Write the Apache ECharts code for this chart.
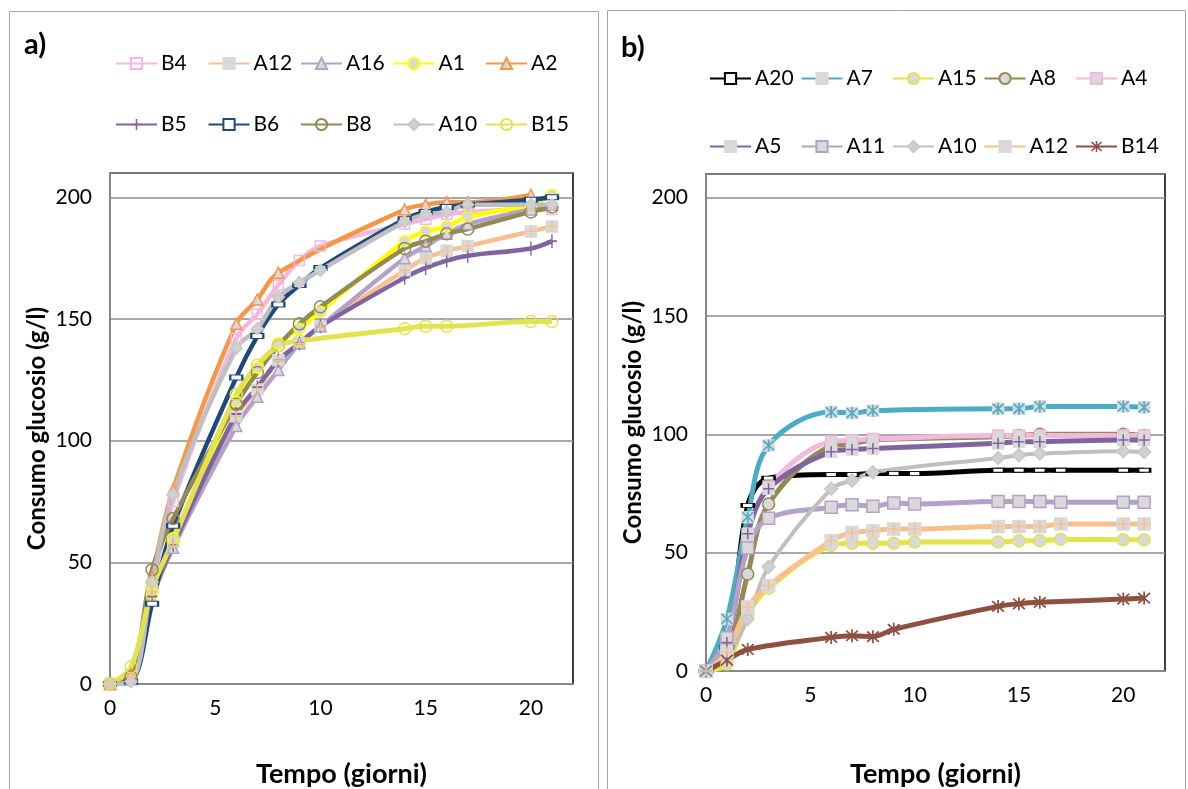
<!DOCTYPE html>
<html>
<head>
<meta charset="utf-8">
<script src="https://cdn.jsdelivr.net/npm/echarts@6/dist/echarts.min.js"></script>
<style>
  html, body { margin: 0; padding: 0; background: #fff; }
  #chart { width: 1188px; height: 789px; }
</style>
</head>
<body>
<div id="chart"></div>
<script>
const FONT = 'Lato, "Noto Sans", sans-serif';

// ---- Panel a) : sampling days and glucose consumption (g/l) ----
const daysA = [0, 1, 2, 3, 6, 7, 8, 9, 10, 14, 15, 16, 17, 20, 21];
const aB4  = [0, 3, 40, 75, 142, 152, 164, 174, 180, 189, 191, 193, 194, 195, 195];
const aA12 = [0, 3, 38, 58, 110, 121, 133, 140, 147, 170, 175, 178, 180, 186, 188];
const aA16 = [0, 2, 35, 56, 106, 118, 129, 140, 147, 175, 180, 185, 189, 195, 197];
const aA1  = [0, 3, 37, 60, 116, 130, 140, 146, 153, 182, 186, 188, 192, 197, 201];
const aA2  = [0, 4, 44, 80, 148, 158, 169, null, null, 195, 197, 198, 198, 201, null];
const aB5  = [0, 2, 36, 57, 111, 122, 133, 140, 147, 167, 171, 174, 176, 179, 182];
const aB6  = [0, 1, 33, 65, 126, 143, 156, 164, 171, 191, 194, 196, 197, 199, 200];
const aB8  = [0, 3, 47, 68, 115, 128, 139, 148, 155, 179, 182, 185, 187, 194, 196];
const aA10 = [0, 1, 42, 78, 138, 146, 159, 165, 170, 190, 193, 194, 197, 197, 197];
const aB15 = [0, 7, 39, 59, 119, 131, 139, 141, null, 146, 147, 147, null, 149, 149];

// ---- Panel b) ----
const daysB = [0, 1, 2, 3, 6, 7, 8, 9, 10, 14, 15, 16, 17, 20, 21];
const bA20 = [0, 10, 70, 81.5, 83, 83, 83.5, 83.5, 83.4, 84.8, 84.8, 84.8, 84.8, 84.8, 84.8];
const bA7  = [0, 22, 65, 95.3, 109.4, 109, 110, null, null, 110.8, 110.8, 111.8, null, 111.8, 111.4];
const bA15 = [0, 3, 24, 35, 53, 54, 54, 54, 54.5, 54.5, 55, 55, 55.7, 55.5, 55.5];
const bA8  = [0, 7, 41, 70.6, 95, 96, 97.6, null, null, 99, 99.5, 100, null, 100, 99.5];
const bA4  = [0, 12, 57, 78, 97, 97.5, 98, null, null, 99.5, 99.5, 99.5, null, 99.5, 99.5];
const bA5  = [0, 12, 58, 77, 92.6, 93.6, 94, null, null, 96.2, 96.9, 96.9, null, 97.6, 97.6];
const bA11 = [0, 14, 52, 64.5, 69.2, 70.2, 69.6, 71, 70.6, 71.6, 71.6, 71.6, 71.3, 71.3, 71.3];
const bA10 = [0, 6, 22, 44, 77, 80.5, 84, null, null, 90, 91.2, 91.9, null, 92.9, 92.6];
const bA12 = [0, 8, 27, 36, 55, 58.5, 59.2, 60, 60, 61.1, 61.1, 61.1, 62.1, 62.1, 62.1];
const bB14 = [0, 4.6, 9.1, null, 14.2, 14.9, 14.5, 17.6, null, 27.3, 28.4, 29, null, 30.4, 30.8];

// legend rows
const legendA1 = ['B4', 'A12', 'A16', 'A1', 'A2'];
const legendA2 = ['B5', 'B6', 'B8', 'A10', 'B15'];
const legendB1 = ['A20', 'A7', 'A15', 'A8', 'A4'];
const legendB2 = ['A5', 'A11', 'A10', 'A12', 'B14'];

// axis ticks
const yTicks = [0, 50, 100, 150, 200];
const xTicks = [0, 5, 10, 15, 20];

// marker shapes
const PLUS = 'path://M4.3,0H5.7V4.3H10V5.7H5.7V10H4.3V5.7H0V4.3H4.3Z';
const STAR = 'path://M4.4,0H5.6V10H4.4Z M0.5,1.4L1.4,0.5L9.5,8.6L8.6,9.5Z M8.6,0.5L9.5,1.4L1.4,9.5L0.5,8.6Z';
const GREY = '#d9d9d9';

function pairs(days, vals) {
  return days.map((d, i) => [d, vals[i]]).filter(p => p[1] != null);
}

function line(grid, name, days, vals, color, marker, lw) {
  return {
    type: 'line', name: name,
    xAxisIndex: grid, yAxisIndex: grid,
    data: pairs(days, vals),
    smooth: 0.35,
    symbol: marker.symbol,
    symbolSize: marker.size,
    showSymbol: true,
    lineStyle: { color: color, width: lw },
    itemStyle: {
      color: marker.fill,
      borderColor: marker.border == null ? color : marker.border,
      borderWidth: marker.bw == null ? 1.5 : marker.bw
    },
    emphasis: { disabled: true },
    animation: false
  };
}

// second glyph drawn on top of a grey marker (cross or star)
function overlay(grid, name, days, vals, color, symbol, size) {
  return {
    type: 'line', name: name,
    xAxisIndex: grid, yAxisIndex: grid,
    data: pairs(days, vals),
    symbol: symbol, symbolSize: size, showSymbol: true,
    lineStyle: { width: 0, opacity: 0 },
    itemStyle: { color: color, borderWidth: 0 },
    emphasis: { disabled: true },
    animation: false, z: 3
  };
}

const C = {
  pink: '#f2b8de', peach: '#f9c08e', lav: '#b3a2c7', yellow: '#ffff00',
  orange: '#f79646', purple: '#8064a2', navy: '#1f497d', olive: '#948a54',
  grey: '#bfbfbf', lime: '#e3e34f', black: '#000000', cyan: '#4bacc6', brown: '#8e5141'
};
const NONE = 'rgba(255,255,255,0)';

const seriesA = [
  line(0, 'B4', daysA, aB4, C.pink, { symbol: 'rect', size: 10, fill: NONE }, 4.5),
  line(0, 'A12', daysA, aA12, C.peach, { symbol: 'rect', size: 11, fill: GREY, border: GREY }, 4.5),
  line(0, 'A16', daysA, aA16, C.lav, { symbol: 'triangle', size: 11, fill: GREY }, 4.5),
  line(0, 'A1', daysA, aA1, C.yellow, { symbol: 'circle', size: 11, fill: GREY }, 4.5),
  line(0, 'A2', daysA, aA2, C.orange, { symbol: 'triangle', size: 11, fill: GREY }, 4.5),
  line(0, 'B5', daysA, aB5, C.purple, { symbol: PLUS, size: [10, 14], fill: C.purple, bw: 0 }, 4.5),
  line(0, 'B6', daysA, aB6, C.navy, { symbol: 'rect', size: [12, 5], fill: '#ffffff', bw: 1.5 }, 4.5),
  line(0, 'B8', daysA, aB8, C.olive, { symbol: 'circle', size: 12, fill: NONE }, 4.5),
  line(0, 'A10', daysA, aA10, C.grey, { symbol: 'diamond', size: 12, fill: '#d0d0d0', border: '#c8c8c8' }, 4.5),
  line(0, 'B15', daysA, aB15, C.lime, { symbol: 'circle', size: 12, fill: NONE }, 5),
  overlay(0, 'A12', daysA, aA12, C.peach, PLUS, 10)
];

const seriesB = [
  line(1, 'A20', daysB, bA20, C.black, { symbol: 'rect', size: [12, 4], fill: '#ffffff', bw: 1.5 }, 5),
  line(1, 'A7', daysB, bA7, C.cyan, { symbol: 'rect', size: 11, fill: GREY, border: GREY }, 5),
  line(1, 'A15', daysB, bA15, C.lime, { symbol: 'circle', size: 12, fill: GREY }, 5),
  line(1, 'A8', daysB, bA8, C.olive, { symbol: 'circle', size: 12, fill: GREY }, 5),
  line(1, 'A4', daysB, bA4, C.pink, { symbol: 'rect', size: 11, fill: GREY }, 5),
  line(1, 'A5', daysB, bA5, C.purple, { symbol: 'rect', size: 11, fill: GREY, border: GREY }, 5),
  line(1, 'A11', daysB, bA11, C.lav, { symbol: 'rect', size: 12, fill: GREY }, 5),
  line(1, 'A10', daysB, bA10, C.grey, { symbol: 'diamond', size: 13, fill: '#d0d0d0', border: '#c8c8c8' }, 4),
  line(1, 'A12', daysB, bA12, C.peach, { symbol: 'rect', size: 12, fill: GREY, border: GREY }, 5),
  line(1, 'B14', daysB, bB14, C.brown, { symbol: STAR, size: 13, fill: C.brown, bw: 0 }, 5),
  overlay(1, 'A7', daysB, bA7, C.cyan, STAR, 12),
  overlay(1, 'A5', daysB, bA5, C.purple, PLUS, 11),
  overlay(1, 'A12', daysB, bA12, C.peach, PLUS, 11)
];

function yAxis(grid) {
  return {
    type: 'value', gridIndex: grid, min: 0, max: 210, interval: 50,
    name: 'Consumo glucosio (g/l)', nameLocation: 'middle', nameGap: 61, nameRotate: 90,
    nameTextStyle: { fontFamily: FONT, fontSize: 24, fontWeight: 'bold', color: '#000' },
    axisLine: { show: true, lineStyle: { color: '#868686', width: 2 } },
    axisTick: { show: false },
    axisLabel: {
      fontFamily: FONT, fontSize: 21, color: '#000', margin: 18,
      showMaxLabel: false,
      formatter: v => (yTicks.indexOf(v) >= 0 ? String(v) : '')
    },
    splitLine: { show: true, lineStyle: { color: '#8c8c8c', width: 1.5 } }
  };
}
function xAxis(grid, gap) {
  return {
    type: 'value', gridIndex: grid, min: 0, max: 22, interval: 5,
    name: 'Tempo (giorni)', nameLocation: 'middle', nameGap: gap,
    nameTextStyle: { fontFamily: FONT, fontSize: 27, fontWeight: 'bold', color: '#000' },
    axisLine: { show: true, onZero: false, lineStyle: { color: '#868686', width: 2 } },
    axisTick: { show: false },
    axisLabel: {
      fontFamily: FONT, fontSize: 21, color: '#000', margin: 14,
      showMaxLabel: false,
      formatter: v => (xTicks.indexOf(v) >= 0 ? String(v) : '')
    },
    splitLine: { show: false }
  };
}

// one legend component per entry so the entries sit on a regular pitch
function legendRow(names, left, top, pitch) {
  return names.map((n, i) => ({
    data: [n], left: left + i * pitch, top: top, padding: 0,
    itemWidth: 41, itemHeight: 14, itemGap: 0,
    textStyle: { fontFamily: FONT, fontSize: 21, color: '#000', padding: [0, 0, 0, -1] },
    selectedMode: false
  }));
}

const option = {
  backgroundColor: '#ffffff',
  animation: false,
  grid: [
    { left: 110, top: 173, width: 463, height: 511, outerBoundsMode: 'none', containLabel: false,
      show: true, borderColor: '#000', borderWidth: 1.5, backgroundColor: 'transparent' },
    { left: 706, top: 174, width: 459, height: 497, outerBoundsMode: 'none', containLabel: false,
      show: true, borderColor: '#000', borderWidth: 1.5, backgroundColor: 'transparent' }
  ],
  xAxis: [xAxis(0, 77), xAxis(1, 90)],
  yAxis: [yAxis(0), yAxis(1)],
  legend: [].concat(
    legendRow(legendA1, 115, 53, 92.5),
    legendRow(legendA2, 115, 114, 92.5),
    legendRow(legendB1, 709, 68, 91.5),
    legendRow(legendB2, 709, 136, 91.5)
  ),
  graphic: [
    { type: 'rect', silent: true, z: -10, shape: { x: 9.5, y: 11.5, width: 589, height: 800 },
      style: { fill: 'none', stroke: '#a6a6a6', lineWidth: 1 } },
    { type: 'rect', silent: true, z: -10, shape: { x: 607.5, y: 10.5, width: 578, height: 800 },
      style: { fill: 'none', stroke: '#a6a6a6', lineWidth: 1 } },
    { type: 'text', left: 24, top: 30, silent: true,
      style: { text: 'a)', font: 'bold 29px ' + FONT, fill: '#000' } },
    { type: 'text', left: 621, top: 33, silent: true,
      style: { text: 'b)', font: 'bold 29px ' + FONT, fill: '#000' } }
  ],
  series: seriesA.concat(seriesB)
};

const chart = echarts.init(document.getElementById('chart'), null, { renderer: 'canvas' });
chart.setOption(option);
</script>
</body>
</html>
